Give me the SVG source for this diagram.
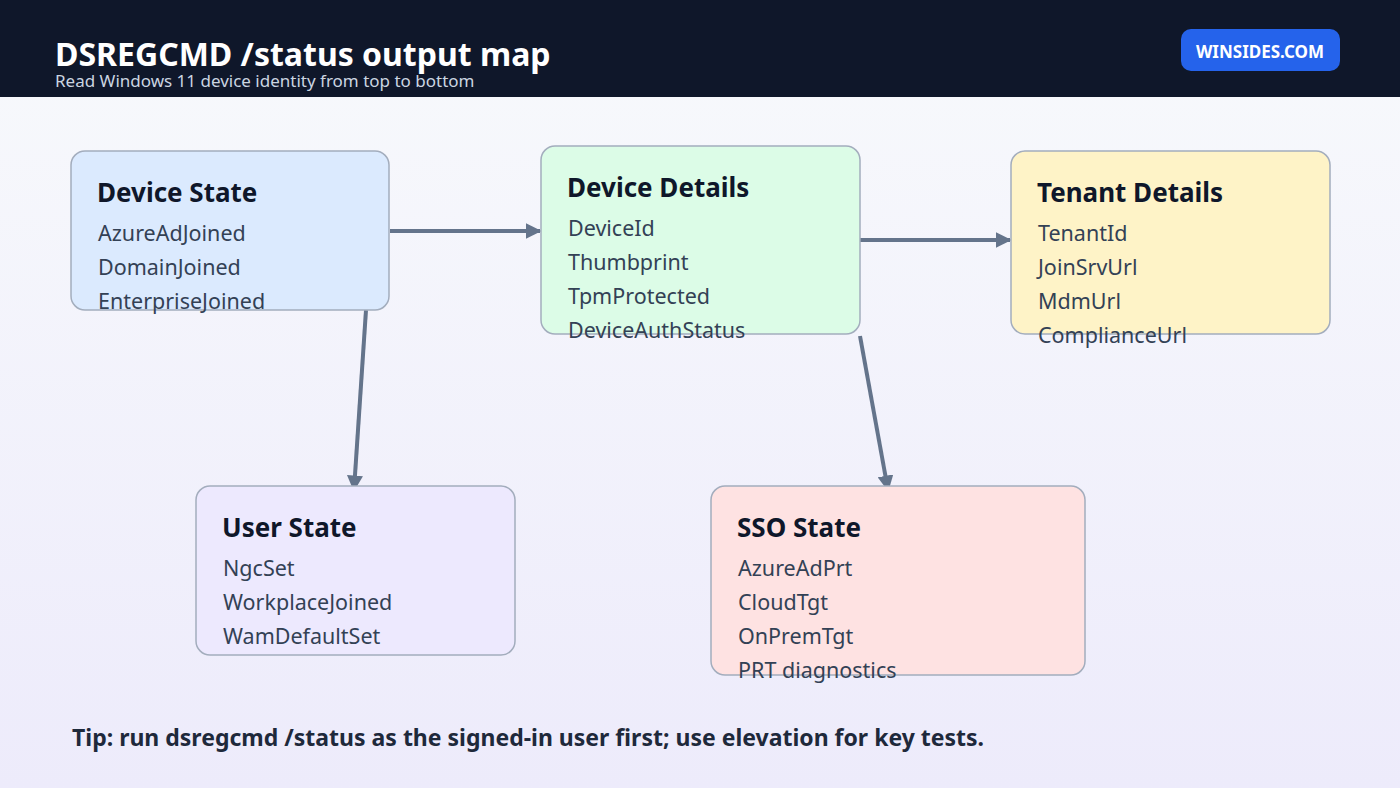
<svg xmlns="http://www.w3.org/2000/svg" width="1400" height="788" viewBox="0 0 1400 788">
<defs>
<linearGradient id="bg" x1="0" y1="0" x2="0" y2="1"><stop offset="0" stop-color="#f8fafc"/><stop offset="1" stop-color="#edebfb"/></linearGradient>
<marker id="ah" viewBox="0 0 10 10" refX="9" refY="5" markerWidth="4" markerHeight="4" orient="auto" markerUnits="strokeWidth"><path d="M0,0 L10,5 L0,10 z" fill="#64748b"/></marker>
<style>
text{font-family:"Noto Sans","Open Sans","Liberation Sans",sans-serif}
.box{stroke:#a3adbd;stroke-width:1.5}
.t{font-size:26px;font-weight:bold;fill:#0f172a}
.i{font-size:21.5px;fill:#334155}
.c{stroke:#64748b;stroke-width:4;fill:none;marker-end:url(#ah)}
</style>
</defs>
<rect width="1400" height="788" fill="url(#bg)"/>
<rect width="1400" height="97" fill="#0f172a"/>
<text x="55" y="66" font-size="32" font-weight="bold" fill="#fff">DSREGCMD /status output map</text>
<text x="55" y="87" font-size="17" fill="#cbd5e1">Read Windows 11 device identity from top to bottom</text>
<rect x="1181" y="29" width="159" height="42" rx="10" fill="#2563eb"/>
<text x="1260" y="58" font-size="17" font-weight="bold" fill="#fff" text-anchor="middle">WINSIDES.COM</text>
<g id="connectors">
<line class="c" x1="390" y1="231" x2="540" y2="231"/>
<line class="c" x1="860" y1="240" x2="1010" y2="240"/>
<line class="c" x1="366" y1="310" x2="354" y2="490"/>
<line class="c" x1="860" y1="336" x2="888" y2="490"/>
</g>
<g id="device-state">
<rect class="box" x="71" y="151" width="318" height="159" rx="14" fill="#dbeafe"/>
<text class="t" x="97" y="202">Device State</text>
<text class="i" x="98" y="241">AzureAdJoined</text>
<text class="i" x="98" y="275">DomainJoined</text>
<text class="i" x="98" y="309">EnterpriseJoined</text>
</g>
<g id="device-details">
<rect class="box" x="541" y="146" width="319" height="188" rx="14" fill="#dcfce7"/>
<text class="t" x="567" y="197">Device Details</text>
<text class="i" x="568" y="236">DeviceId</text>
<text class="i" x="568" y="270">Thumbprint</text>
<text class="i" x="568" y="304">TpmProtected</text>
<text class="i" x="568" y="338">DeviceAuthStatus</text>
</g>
<g id="tenant-details">
<rect class="box" x="1011" y="151" width="319" height="183" rx="14" fill="#fef3c7"/>
<text class="t" x="1037" y="202">Tenant Details</text>
<text class="i" x="1038" y="241">TenantId</text>
<text class="i" x="1038" y="275">JoinSrvUrl</text>
<text class="i" x="1038" y="309">MdmUrl</text>
<text class="i" x="1038" y="343">ComplianceUrl</text>
</g>
<g id="user-state">
<rect class="box" x="196" y="486" width="319" height="169" rx="14" fill="#ede9fe"/>
<text class="t" x="222" y="537">User State</text>
<text class="i" x="223" y="576">NgcSet</text>
<text class="i" x="223" y="610">WorkplaceJoined</text>
<text class="i" x="223" y="644">WamDefaultSet</text>
</g>
<g id="sso-state">
<rect class="box" x="711" y="486" width="374" height="189" rx="14" fill="#fee2e2"/>
<text class="t" x="737" y="537">SSO State</text>
<text class="i" x="738" y="576">AzureAdPrt</text>
<text class="i" x="738" y="610">CloudTgt</text>
<text class="i" x="738" y="644">OnPremTgt</text>
<text class="i" x="738" y="678">PRT diagnostics</text>
</g>
<text x="72" y="746" font-size="23" font-weight="bold" fill="#1e293b">Tip: run dsregcmd /status as the signed-in user first; use elevation for key tests.</text>
</svg>
